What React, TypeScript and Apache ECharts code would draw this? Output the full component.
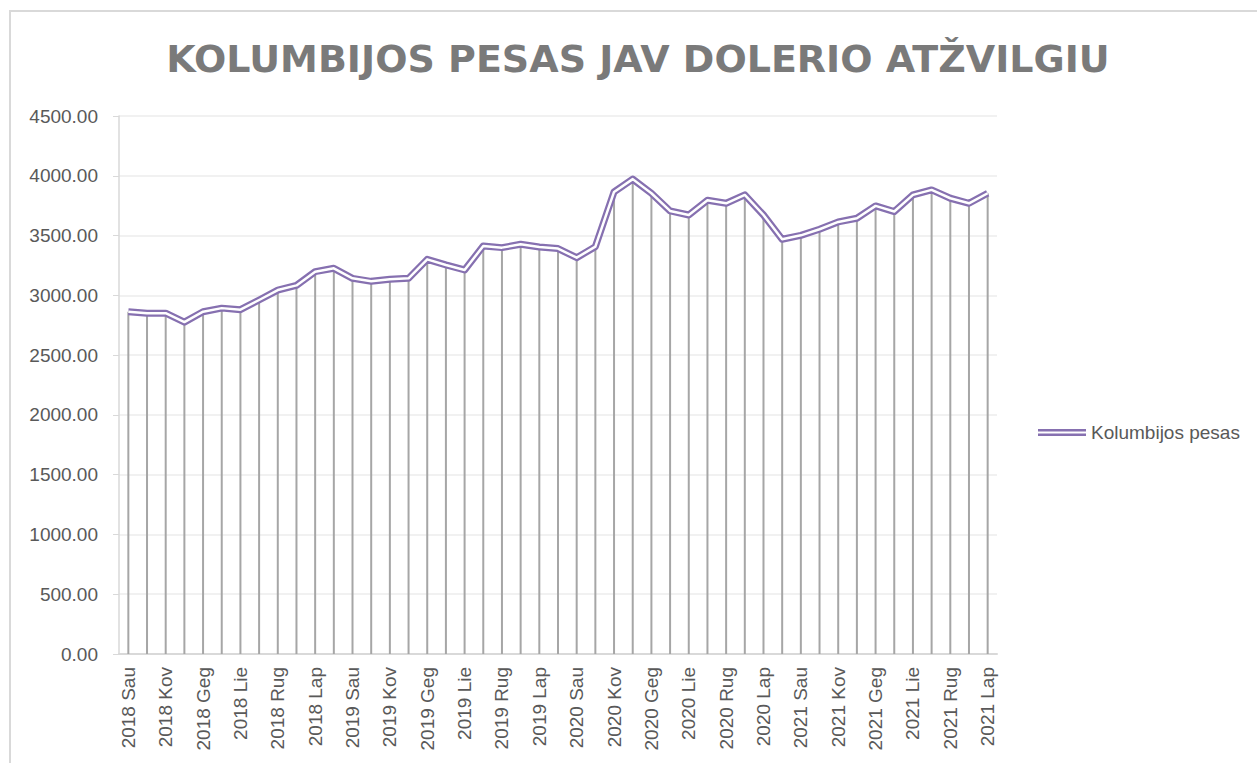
import React, { useEffect, useRef } from "react";
import * as echarts from "echarts";

const chartTitle = "KOLUMBIJOS PESAS JAV DOLERIO ATŽVILGIU";
const seriesName = "Kolumbijos pesas";
const years = ["2018", "2019", "2020", "2021"];
const monthNames = ["Sau", "Vas", "Kov", "Bal", "Geg", "Bir", "Lie", "Rgp", "Rug", "Spa", "Lap", "Gru"];
const monthsInLastYear = 11;

const copPerUsd = [
  2863, 2851, 2851, 2776, 2863, 2893, 2880, 2961, 3044, 3083, 3198, 3226,
  3142, 3117, 3134, 3142, 3301, 3254, 3212, 3413, 3399, 3427, 3404, 3391,
  3315, 3407, 3865, 3972, 3854, 3706, 3672, 3795, 3770, 3840, 3672, 3469,
  3502, 3553, 3614, 3645, 3748, 3701, 3840, 3882, 3812, 3770, 3854,
];

const yMin = 0;
const yMax = 4500;
const yStep = 500;

const categories: string[] = [];
years.forEach((y, yi) => {
  const n = yi === years.length - 1 ? monthsInLastYear : 12;
  for (let m = 0; m < n; m++) categories.push(`${y} ${monthNames[m]}`);
});

const textColor = "#595959";
const axisGray = "#d9d9d9";
const purple = "#8670b0";
const labelFont = "'Liberation Sans', Arial, sans-serif";

export default function App() {
  const ref = useRef<HTMLDivElement>(null);
  useEffect(() => {
    if (!ref.current) return;
    const chart = echarts.init(ref.current, undefined, { renderer: "svg" });
    chart.setOption({
      animation: false,
      backgroundColor: "#ffffff",
      graphic: [
        {
          type: "rect",
          shape: { x: 10, y: 11, width: 1400, height: 900 },
          style: { fill: "none", stroke: axisGray, lineWidth: 2 },
          silent: true,
          z: -10,
        },
        {
          type: "text",
          x: 638,
          y: 59,
          style: {
            text: chartTitle,
            fill: "#7a7a7a",
            font: "bold 38px 'DejaVu Sans', sans-serif",
            textAlign: "center",
            textVerticalAlign: "middle",
          },
        },
      ],
      legend: {
        data: [seriesName],
        orient: "vertical",
        left: 1033,
        top: 418,
        itemWidth: 48,
        itemHeight: 7,
        icon: "path://M0,0H48V2.5H0Z M0,4.5H48V7H0Z",
        itemStyle: { color: purple },
        textStyle: { fontSize: 19, color: textColor, fontFamily: labelFont },
      },
      grid: { left: 119, right: 260, top: 116, bottom: 109, containLabel: false },
      xAxis: {
        type: "category",
        data: categories,
        boundaryGap: true,
        axisLine: { show: true, lineStyle: { color: axisGray, width: 2 } },
        axisTick: { show: false },
        axisLabel: {
          interval: 1,
          rotate: 90,
          margin: 13,
          fontSize: 19,
          color: textColor,
          fontFamily: labelFont,
        },
        splitLine: { show: false },
      },
      yAxis: {
        type: "value",
        min: yMin,
        max: yMax,
        interval: yStep,
        axisLine: { show: true, lineStyle: { color: axisGray, width: 1.5 } },
        axisTick: { show: true, length: 6, lineStyle: { color: axisGray } },
        axisLabel: {
          margin: 21,
          fontSize: 19,
          color: textColor,
          fontFamily: labelFont,
          formatter: (v: number) => v.toFixed(2),
        },
        splitLine: { show: true, lineStyle: { color: "#ececec", width: 1.5 } },
      },
      series: [
        {
          name: "drop",
          type: "bar",
          data: copPerUsd,
          barWidth: 2,
          itemStyle: { color: "#a6a6a6" },
          silent: true,
          z: 1,
        },
        {
          name: seriesName,
          type: "line",
          data: copPerUsd,
          showSymbol: false,
          symbol: "none",
          lineStyle: { color: purple, width: 7, join: "round" },
          itemStyle: { color: purple },
          z: 2,
        },
        {
          name: "inner",
          type: "line",
          data: copPerUsd,
          showSymbol: false,
          symbol: "none",
          lineStyle: { color: "#ffffff", width: 2.5, join: "round" },
          itemStyle: { color: "#ffffff" },
          z: 3,
        },
      ],
    });
    return () => chart.dispose();
  }, []);
  return (
    <div
      ref={ref}
      style={{ position: "absolute", left: 0, top: 0, width: 1257, height: 763 }}
    />
  );
}
